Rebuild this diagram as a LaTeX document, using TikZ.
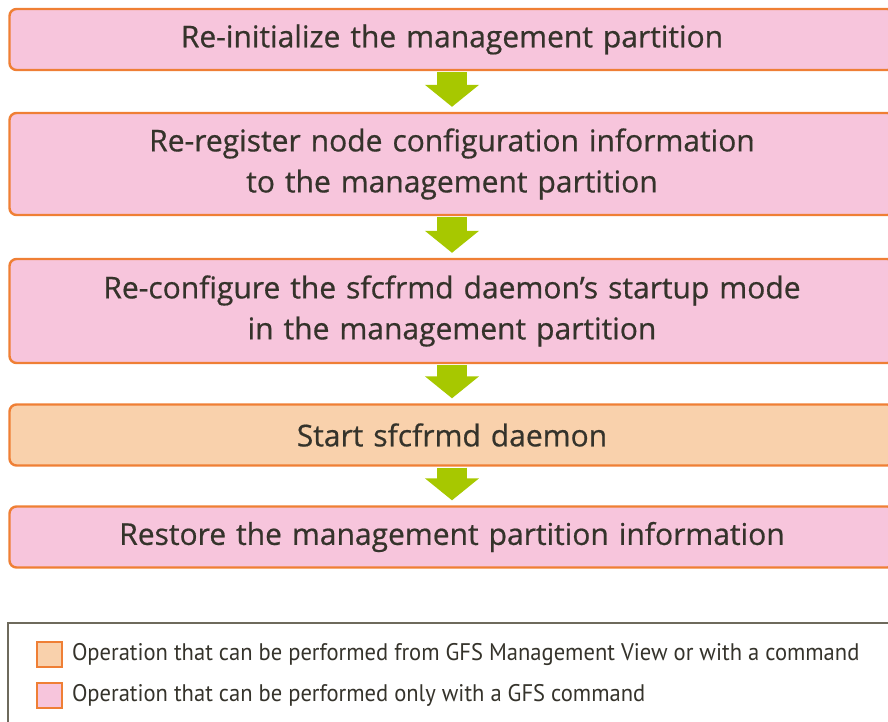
\documentclass[tikz,border=0pt]{standalone}
\usepackage{fontspec}
\setmainfont{Open Sans}
\newfontfamily\stepfont[FakeBold=0.6]{Open Sans}
\newfontfamily\legendfont[FakeStretch=0.94]{PT Sans}
\usetikzlibrary{calc, positioning}
\usetikzlibrary{arrows.meta}

\begin{document}
\begin{tikzpicture}[x=1pt,y=-1pt,
  step box/.style={draw=boxedge, line width=2.4pt, rounded corners=7pt,
    minimum width=885pt, text width=860pt, align=center, text=textgray,
    font=\stepfont\fontsize{30}{41}\selectfont},
  pink box/.style={step box, fill=cmdpink},
  peach box/.style={step box, fill=viewpeach},
  flow/.style={draw=flowgreen, line width=30pt,
    -{Triangle[width=53pt,length=22pt]}, shorten <=1pt, shorten >=5pt},
  key box/.style={draw=boxedge, line width=1.6pt, minimum size=25pt, inner sep=0pt},
  key text/.style={anchor=west, text=textgray, inner sep=0pt,
    font=\legendfont\fontsize{24}{28}\selectfont}]
\definecolor{cmdpink}{RGB}{247,197,220}
\definecolor{viewpeach}{RGB}{249,209,172}
\definecolor{boxedge}{RGB}{239,127,53}
\definecolor{flowgreen}{RGB}{167,200,0}
\definecolor{textgray}{RGB}{53,51,43}
\definecolor{keyedge}{RGB}{110,106,92}
\def\boxx{452}
\def\keyx{49.5}

\clip (0,0) rectangle (888,722);

% steps
\node[pink box, minimum height=61pt] (reinit) at (\boxx,39.5)
  {Re-initialize the management partition};
\node[pink box, minimum height=102pt] (reregister) at (\boxx,164)
  {Re-register node configuration information\\to the management partition};
\node[pink box, minimum height=104pt] (reconfig) at (\boxx,311)
  {Re-configure the sfcfrmd daemon’s startup mode\\in the management partition};
\node[peach box, minimum height=61pt] (startd) at (\boxx,435)
  {Start sfcfrmd daemon};
\node[pink box, minimum height=61pt] (restore) at (\boxx,537)
  {Restore the management partition information};

\draw[flow] (reinit.south) -- (reregister.north);
\draw[flow] (reregister.south) -- (reconfig.north);
\draw[flow] (reconfig.south) -- (startd.north);
\draw[flow] (startd.south) -- (restore.north);

% legend
\draw[draw=keyedge, line width=2pt] (8,623) rectangle (900,740);
\node[key box, fill=viewpeach] (keyview) at (\keyx,654.5) {};
\node[key box, fill=cmdpink] (keycmd) at (\keyx,695.5) {};
\node[key text, right=9pt of keyview]
  {Operation that can be performed from GFS Management View or with a command};
\node[key text, right=9pt of keycmd]
  {Operation that can be performed only with a GFS command};
\end{tikzpicture}
\end{document}
